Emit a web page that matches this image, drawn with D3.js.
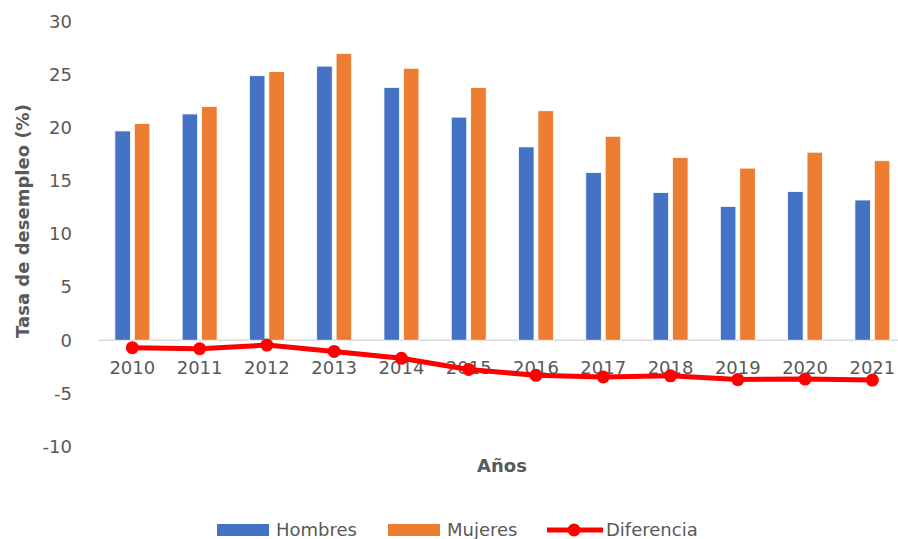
<!DOCTYPE html>
<html lang="es">
<head>
<meta charset="utf-8">
<title>Tasa de desempleo</title>
<script src="https://d3js.org/d3.v7.min.js"></script>
<style>
  body { margin: 0; background: #fff; }
  text { font-family: "DejaVu Sans", Verdana, sans-serif; }
</style>
</head>
<body>
<script>
// data
var years = ["2010","2011","2012","2013","2014","2015","2016","2017","2018","2019","2020","2021"];
var hombres = [19.7, 21.3, 24.9, 25.8, 23.8, 21.0, 18.2, 15.8, 13.9, 12.6, 14.0, 13.2];
var mujeres = [20.4, 22.0, 25.3, 27.0, 25.6, 23.8, 21.6, 19.2, 17.2, 16.2, 17.7, 16.9];
var diferencia = [-0.7, -0.8, -0.45, -1.05, -1.7, -2.75, -3.3, -3.45, -3.35, -3.7, -3.65, -3.75];
var yTicks = [30, 25, 20, 15, 10, 5, 0, -5, -10];
var seriesNames = ["Hombres", "Mujeres"];

var w = 898, h = 539;
var svg = d3.select("body").append("svg")
    .attr("width", w).attr("height", h);

var x0 = d3.scaleBand().domain(years)
    .range([98.7, 906])
    .paddingInner(0.48).paddingOuter(0.24);
var x1 = d3.scaleBand().domain(seriesNames)
    .range([0, x0.bandwidth()])
    .paddingInner(0.2);
var y = d3.scaleLinear().domain([-10, 30]).range([446.5, 21.5]);
var color = d3.scaleOrdinal().domain(seriesNames).range(["#4472C4", "#ED7D31"]);

// y tick labels
svg.append("g").selectAll("text")
  .data(yTicks).enter().append("text")
    .attr("x", 72)
    .attr("y", d => y(d))
    .attr("dy", "0.35em")
    .attr("text-anchor", "end")
    .attr("font-size", 18)
    .attr("fill", "#595959")
    .text(d => d);

// zero line
svg.append("line")
    .attr("x1", 98.7).attr("x2", w)
    .attr("y1", y(0)).attr("y2", y(0))
    .attr("stroke", "#d9d9d9").attr("stroke-width", 1.5);

// bars
var rows = years.map((yr, i) => ({year: yr, vals: [
  {key: "Hombres", v: hombres[i]}, {key: "Mujeres", v: mujeres[i]}]}));

svg.append("g").selectAll("g")
  .data(rows).enter().append("g")
    .attr("transform", d => `translate(${x0(d.year)},0)`)
  .selectAll("rect")
  .data(d => d.vals).enter().append("rect")
    .attr("x", d => x1(d.key))
    .attr("y", d => y(d.v))
    .attr("width", x1.bandwidth())
    .attr("height", d => y(0) - y(d.v))
    .attr("fill", d => color(d.key))
    .attr("stroke", "#fff")
    .attr("stroke-width", 0.8);

// x labels
svg.append("g").selectAll("text")
  .data(years).enter().append("text")
    .attr("x", d => x0(d) + x0.bandwidth() / 2)
    .attr("y", 368)
    .attr("dy", "0.35em")
    .attr("text-anchor", "middle")
    .attr("font-size", 18)
    .attr("fill", "#595959")
    .text(d => d);

// difference line on top
var cx = (d, i) => x0(years[i]) + x0.bandwidth() / 2;
var line = d3.line().x(cx).y(d => y(d));
svg.append("path")
    .datum(diferencia)
    .attr("d", line)
    .attr("fill", "none")
    .attr("stroke", "#FF0000")
    .attr("stroke-width", 5)
    .attr("stroke-linejoin", "round");
svg.append("g").selectAll("circle")
  .data(diferencia).enter().append("circle")
    .attr("cx", cx)
    .attr("cy", d => y(d))
    .attr("r", 6.5)
    .attr("fill", "#FF0000");

// axis titles
svg.append("text")
    .attr("transform", "translate(29,221) rotate(-90)")
    .attr("text-anchor", "middle")
    .attr("font-size", 18)
    .attr("font-weight", "bold")
    .attr("fill", "#595959")
    .text("Tasa de desempleo (%)");

svg.append("text")
    .attr("x", 502).attr("y", 472)
    .attr("text-anchor", "middle")
    .attr("font-size", 18)
    .attr("font-weight", "bold")
    .attr("fill", "#595959")
    .text("Años");

// legend
var lg = svg.append("g");
var legendX = [217, 388];
seriesNames.forEach((s, i) => {
  lg.append("rect")
    .attr("x", legendX[i]).attr("y", 524)
    .attr("width", 52).attr("height", 12)
    .attr("fill", color(s));
  lg.append("text")
    .attr("x", legendX[i] + 59).attr("y", 530)
    .attr("dy", "0.35em")
    .attr("font-size", 18)
    .attr("fill", "#595959")
    .text(s);
});
lg.append("line")
    .attr("x1", 547).attr("x2", 603)
    .attr("y1", 530).attr("y2", 530)
    .attr("stroke", "#FF0000").attr("stroke-width", 5);
lg.append("circle")
    .attr("cx", 574).attr("cy", 530).attr("r", 6.5)
    .attr("fill", "#FF0000");
lg.append("text")
    .attr("x", 606).attr("y", 530)
    .attr("dy", "0.35em")
    .attr("font-size", 18)
    .attr("fill", "#595959")
    .text("Diferencia");
</script>
</body>
</html>
